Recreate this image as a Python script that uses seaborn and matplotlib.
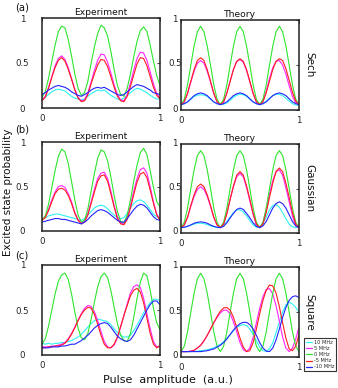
import numpy as np
import pandas as pd
import matplotlib
matplotlib.use("Agg")
import matplotlib.pyplot as plt
from matplotlib.lines import Line2D
import seaborn as sns

# ---------------- data ----------------
amplitude = np.linspace(0, 1, 37)
detunings = ["10 MHz", "5 MHz", "0 MHz", "-5 MHz", "-10 MHz"]
colors = ["#2ef2f2", "#ff22ff", "#2ee62e", "#ff1f1f", "#2424ff"]
shapes = ["Sech", "Gaussian", "Square"]
panel_tags = ["(a)", "(b)", "(c)"]
y_ticks = [0, 0.5, 1]
y_ticklabels = ["0", "0.5", "1"]
x_ticks = [0, 1]
x_ticklabels = ["0", "1"]

# Experiment, Sech
exp_sech_cyan = [0.10,0.12,0.15,0.18,0.20,0.21,0.20,0.19,0.16,0.13,0.11,0.10,0.09,0.10,0.13,0.16,0.18,0.20,0.19,0.20,0.17,0.14,0.12,0.10,0.09,0.11,0.14,0.17,0.20,0.22,0.21,0.19,0.17,0.14,0.12,0.10,0.10]
exp_sech_magenta = [0.09,0.13,0.23,0.35,0.47,0.55,0.58,0.54,0.45,0.33,0.21,0.12,0.08,0.09,0.17,0.29,0.42,0.53,0.60,0.59,0.51,0.39,0.26,0.15,0.09,0.08,0.15,0.28,0.42,0.55,0.62,0.61,0.53,0.40,0.27,0.16,0.11]
exp_sech_green = [0.12,0.18,0.33,0.52,0.70,0.85,0.91,0.89,0.76,0.58,0.38,0.22,0.14,0.17,0.30,0.50,0.68,0.83,0.92,0.89,0.80,0.63,0.43,0.25,0.15,0.13,0.22,0.38,0.57,0.74,0.86,0.90,0.85,0.70,0.52,0.36,0.25]
exp_sech_red = [0.08,0.12,0.22,0.34,0.45,0.53,0.56,0.52,0.43,0.32,0.20,0.11,0.07,0.08,0.15,0.27,0.38,0.48,0.54,0.53,0.46,0.35,0.23,0.13,0.08,0.07,0.13,0.24,0.37,0.49,0.56,0.55,0.47,0.35,0.23,0.14,0.10]
exp_sech_blue = [0.15,0.17,0.20,0.22,0.24,0.25,0.24,0.23,0.21,0.18,0.16,0.14,0.13,0.15,0.17,0.20,0.22,0.23,0.22,0.23,0.21,0.19,0.17,0.15,0.14,0.15,0.18,0.21,0.24,0.26,0.25,0.24,0.22,0.20,0.17,0.16,0.15]

# Theory, Sech
th_sech_cyan = [0.06,0.07,0.09,0.12,0.15,0.165,0.17,0.165,0.15,0.12,0.09,0.07,0.06,0.065,0.08,0.11,0.14,0.165,0.175,0.17,0.15,0.12,0.09,0.07,0.06,0.07,0.10,0.13,0.16,0.175,0.175,0.16,0.13,0.10,0.07,0.055,0.05]
th_sech_magenta = [0.06,0.09,0.18,0.31,0.43,0.52,0.55,0.52,0.43,0.31,0.18,0.09,0.06,0.09,0.19,0.32,0.45,0.54,0.56,0.53,0.44,0.31,0.18,0.09,0.06,0.10,0.21,0.35,0.47,0.54,0.55,0.50,0.40,0.27,0.15,0.08,0.06]
th_sech_green = [0.06,0.12,0.28,0.50,0.71,0.87,0.93,0.87,0.71,0.50,0.28,0.12,0.06,0.12,0.28,0.50,0.71,0.87,0.93,0.87,0.71,0.50,0.28,0.12,0.06,0.12,0.28,0.50,0.71,0.87,0.93,0.87,0.71,0.50,0.28,0.12,0.06]
th_sech_red = [0.06,0.09,0.19,0.32,0.45,0.55,0.58,0.55,0.45,0.32,0.19,0.09,0.06,0.09,0.19,0.32,0.45,0.54,0.57,0.54,0.45,0.32,0.19,0.09,0.06,0.09,0.19,0.32,0.45,0.54,0.57,0.55,0.46,0.33,0.20,0.10,0.06]
th_sech_blue = [0.06,0.07,0.09,0.125,0.16,0.18,0.19,0.18,0.16,0.125,0.09,0.07,0.06,0.07,0.09,0.125,0.16,0.18,0.19,0.18,0.16,0.125,0.09,0.07,0.06,0.07,0.09,0.125,0.16,0.18,0.19,0.18,0.16,0.125,0.09,0.07,0.06]

# Experiment, Gaussian
exp_gauss_cyan = [0.13,0.15,0.17,0.18,0.19,0.19,0.18,0.17,0.16,0.15,0.14,0.13,0.12,0.14,0.18,0.22,0.26,0.28,0.29,0.28,0.25,0.21,0.18,0.15,0.14,0.15,0.20,0.26,0.31,0.34,0.35,0.33,0.29,0.24,0.19,0.16,0.15]
exp_gauss_magenta = [0.13,0.16,0.24,0.35,0.44,0.50,0.51,0.49,0.42,0.33,0.21,0.13,0.09,0.11,0.20,0.33,0.47,0.59,0.65,0.66,0.59,0.45,0.29,0.16,0.09,0.08,0.15,0.29,0.45,0.59,0.69,0.71,0.65,0.50,0.33,0.19,0.13]
exp_gauss_green = [0.12,0.17,0.30,0.49,0.68,0.84,0.92,0.89,0.76,0.56,0.35,0.18,0.10,0.12,0.25,0.45,0.65,0.82,0.91,0.89,0.79,0.61,0.40,0.22,0.11,0.09,0.18,0.35,0.56,0.74,0.88,0.93,0.86,0.68,0.49,0.33,0.27]
exp_gauss_red = [0.12,0.15,0.23,0.33,0.42,0.47,0.48,0.46,0.40,0.31,0.20,0.12,0.08,0.10,0.18,0.31,0.44,0.56,0.62,0.63,0.56,0.42,0.27,0.14,0.08,0.07,0.13,0.26,0.41,0.55,0.64,0.66,0.60,0.46,0.31,0.18,0.12]
exp_gauss_blue = [0.10,0.11,0.12,0.13,0.14,0.14,0.13,0.13,0.12,0.11,0.10,0.09,0.08,0.10,0.13,0.17,0.20,0.23,0.24,0.23,0.21,0.18,0.15,0.12,0.10,0.10,0.14,0.19,0.24,0.28,0.30,0.29,0.26,0.21,0.16,0.13,0.12]

# Theory, Gaussian
th_gauss_cyan = [0.06,0.065,0.075,0.09,0.10,0.11,0.11,0.105,0.095,0.08,0.07,0.06,0.065,0.09,0.13,0.18,0.23,0.26,0.26,0.24,0.19,0.14,0.09,0.065,0.07,0.11,0.18,0.26,0.31,0.32,0.29,0.23,0.16,0.10,0.07,0.06,0.07]
th_gauss_magenta = [0.06,0.09,0.17,0.30,0.41,0.49,0.52,0.49,0.41,0.30,0.17,0.09,0.06,0.10,0.22,0.38,0.52,0.63,0.67,0.63,0.51,0.36,0.21,0.09,0.06,0.11,0.26,0.44,0.59,0.69,0.71,0.65,0.51,0.35,0.19,0.08,0.06]
th_gauss_green = [0.06,0.12,0.28,0.50,0.71,0.87,0.925,0.87,0.71,0.50,0.28,0.12,0.06,0.12,0.28,0.50,0.71,0.87,0.925,0.87,0.71,0.50,0.28,0.12,0.06,0.12,0.28,0.50,0.71,0.87,0.925,0.87,0.71,0.50,0.28,0.12,0.06]
th_gauss_red = [0.06,0.09,0.18,0.31,0.43,0.52,0.55,0.52,0.43,0.31,0.18,0.09,0.06,0.10,0.22,0.38,0.53,0.65,0.69,0.65,0.53,0.38,0.22,0.10,0.06,0.10,0.23,0.40,0.56,0.69,0.73,0.69,0.56,0.40,0.23,0.10,0.06]
th_gauss_blue = [0.06,0.065,0.075,0.09,0.11,0.12,0.125,0.12,0.11,0.09,0.075,0.065,0.06,0.075,0.115,0.17,0.22,0.265,0.28,0.265,0.22,0.17,0.115,0.075,0.06,0.08,0.13,0.205,0.28,0.33,0.35,0.33,0.28,0.205,0.13,0.08,0.06]

# Experiment, Square
exp_square_cyan = [0.13,0.12,0.13,0.12,0.13,0.13,0.14,0.14,0.15,0.16,0.18,0.20,0.23,0.27,0.31,0.35,0.38,0.40,0.39,0.38,0.37,0.34,0.29,0.25,0.22,0.20,0.20,0.22,0.27,0.33,0.40,0.47,0.53,0.58,0.62,0.62,0.60]
exp_square_magenta = [0.09,0.09,0.09,0.10,0.10,0.11,0.12,0.14,0.18,0.24,0.31,0.39,0.46,0.52,0.55,0.54,0.48,0.38,0.26,0.15,0.09,0.08,0.11,0.19,0.31,0.44,0.57,0.69,0.76,0.78,0.75,0.63,0.46,0.29,0.15,0.09,0.10]
exp_square_green = [0.12,0.18,0.32,0.50,0.68,0.82,0.89,0.91,0.84,0.68,0.48,0.30,0.19,0.17,0.24,0.40,0.59,0.76,0.87,0.91,0.86,0.72,0.53,0.35,0.22,0.16,0.15,0.24,0.42,0.63,0.81,0.91,0.88,0.72,0.52,0.36,0.28]
exp_square_red = [0.08,0.08,0.09,0.09,0.10,0.10,0.11,0.13,0.17,0.23,0.30,0.38,0.45,0.50,0.53,0.52,0.45,0.34,0.22,0.12,0.08,0.08,0.12,0.20,0.32,0.44,0.55,0.66,0.72,0.74,0.70,0.58,0.41,0.24,0.12,0.08,0.10]
exp_square_blue = [0.08,0.08,0.08,0.09,0.09,0.09,0.10,0.10,0.11,0.12,0.12,0.14,0.16,0.19,0.22,0.26,0.30,0.33,0.35,0.36,0.35,0.31,0.26,0.21,0.18,0.16,0.15,0.17,0.22,0.29,0.36,0.43,0.50,0.56,0.60,0.60,0.56]

# Theory, Square
th_square_cyan = [0.06,0.06,0.06,0.06,0.062,0.065,0.07,0.075,0.08,0.09,0.10,0.12,0.14,0.17,0.21,0.25,0.29,0.33,0.35,0.36,0.35,0.31,0.25,0.18,0.11,0.07,0.065,0.09,0.16,0.27,0.39,0.50,0.58,0.61,0.59,0.55,0.50]
th_square_magenta = [0.06,0.06,0.06,0.065,0.075,0.10,0.13,0.18,0.24,0.31,0.38,0.44,0.49,0.52,0.52,0.48,0.39,0.28,0.16,0.08,0.06,0.10,0.22,0.38,0.54,0.67,0.75,0.76,0.70,0.57,0.40,0.22,0.10,0.06,0.10,0.20,0.33]
th_square_green = [0.06,0.12,0.28,0.50,0.71,0.87,0.93,0.87,0.71,0.50,0.28,0.12,0.06,0.12,0.28,0.50,0.71,0.87,0.93,0.87,0.71,0.50,0.28,0.12,0.06,0.12,0.28,0.50,0.71,0.87,0.93,0.87,0.71,0.50,0.28,0.12,0.06]
th_square_red = [0.06,0.06,0.06,0.065,0.075,0.10,0.13,0.18,0.24,0.31,0.38,0.45,0.51,0.545,0.55,0.52,0.44,0.33,0.21,0.11,0.06,0.07,0.16,0.31,0.48,0.63,0.74,0.80,0.79,0.71,0.56,0.38,0.21,0.09,0.07,0.12,0.25]
th_square_blue = [0.06,0.06,0.06,0.06,0.06,0.06,0.06,0.065,0.07,0.08,0.09,0.11,0.13,0.16,0.20,0.25,0.30,0.34,0.37,0.385,0.385,0.36,0.31,0.24,0.16,0.10,0.065,0.06,0.10,0.19,0.31,0.44,0.55,0.63,0.67,0.68,0.66]

experiment = [
    [exp_sech_cyan, exp_sech_magenta, exp_sech_green, exp_sech_red, exp_sech_blue],
    [exp_gauss_cyan, exp_gauss_magenta, exp_gauss_green, exp_gauss_red, exp_gauss_blue],
    [exp_square_cyan, exp_square_magenta, exp_square_green, exp_square_red, exp_square_blue],
]
theory = [
    [th_sech_cyan, th_sech_magenta, th_sech_green, th_sech_red, th_sech_blue],
    [th_gauss_cyan, th_gauss_magenta, th_gauss_green, th_gauss_red, th_gauss_blue],
    [th_square_cyan, th_square_magenta, th_square_green, th_square_red, th_square_blue],
]

# ---------------- figure ----------------
sns.set_style("white")
plt.rcParams["font.family"] = ["DejaVu Sans"]

W, H = 338, 388
fig = plt.figure(figsize=(W / 100, H / 100), dpi=100)


def px_axes(x0, y0, x1, y1):
    return fig.add_axes([x0 / W, 1 - y1 / H, (x1 - x0) / W, (y1 - y0) / H])


def long_df(series):
    rows = []
    for det, vals in zip(detunings, series):
        for a, p in zip(amplitude, vals):
            rows.append((a, p, det))
    return pd.DataFrame(rows, columns=["amp", "P", "det"])


exp_rows = [(18, 108), (142, 231), (265, 355)]
th_rows = [(20, 110), (144, 233), (267, 357)]
right_label_y = [65, 188, 312]
tag_y = [8, 129, 255]

for i in range(3):
    for kind, (y0, y1), x0, x1, series, title in [
        ("exp", exp_rows[i], 42, 160, experiment[i], "Experiment"),
        ("th", th_rows[i], 181, 299, theory[i], "Theory"),
    ]:
        ax = px_axes(x0, y0, x1, y1)
        sns.lineplot(data=long_df(series), x="amp", y="P", hue="det",
                     hue_order=detunings, palette=colors, estimator=None,
                     sort=False, legend=False, linewidth=0.8, ax=ax)
        ax.set_xlim(0, 1)
        ax.set_ylim(0, 1)
        ax.set_xticks(x_ticks)
        ax.set_xticklabels(x_ticklabels)
        ax.set_yticks(y_ticks)
        ax.set_yticklabels(y_ticklabels)
        ax.set_xlabel("")
        ax.set_ylabel("")
        ax.tick_params(direction="in", length=2.2, width=0.6, top=True,
                       right=True, labelsize=6.2, colors="#222222",
                       labelleft=(kind == "exp"), labelbottom=True)
        ax.tick_params(axis="y", pad=8.6)
        ax.tick_params(axis="x", pad=4.2)
        if kind == "exp":
            # the y labels sitting in the gap belong to the Theory panel's scale
            ax.tick_params(axis="y", labelright=True, pad=5.2)
            for t in ax.yaxis.get_major_ticks():
                t.label1.set_horizontalalignment("center")
                t.label2.set_horizontalalignment("center")
                t.label1.set_x(-12.5 / 118)
                t.label2.set_x(1 + 7.5 / 118)
        for sp in ax.spines.values():
            sp.set_visible(True)
            sp.set_linewidth(1.1)
            sp.set_color("#222222")
        ax.set_title(title, fontsize=6.6, pad=2.0, color="#111111")
        if kind == "th":
            fig.text(309 / W, 1 - right_label_y[i] / H, shapes[i], rotation=270,
                     ha="center", va="center", fontsize=7.5, color="#111111")
    fig.text(22 / W, 1 - tag_y[i] / H, panel_tags[i], ha="center", va="center",
             fontsize=7.2, color="#111111")

fig.text(8 / W, 1 - 192 / H, "Excited state probability", rotation=90,
         ha="center", va="center", fontsize=7.5, color="#111111")
fig.text(168 / W, 1 - 380 / H, "Pulse  amplitude  (a.u.)", ha="center",
         va="center", fontsize=8, color="#111111")

handles = [Line2D([0], [0], color=c, lw=0.9) for c in colors]
leg = fig.legend(handles, detunings, loc="upper left",
                 bbox_to_anchor=(304 / W, 1 - 338 / H), fontsize=3.6,
                 handlelength=1.3, handletextpad=0.4, borderpad=0.3,
                 labelspacing=0.25, borderaxespad=0, frameon=True,
                 fancybox=False)
leg.get_frame().set_edgecolor("black")
leg.get_frame().set_linewidth(0.8)

fig.savefig("out.png", dpi=100)
